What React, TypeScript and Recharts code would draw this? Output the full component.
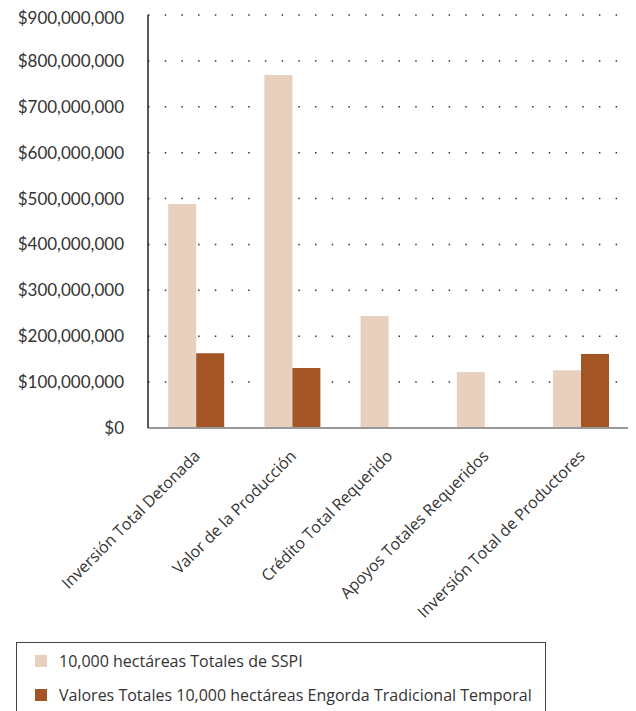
import React from "react";
import { BarChart, Bar, XAxis, YAxis, CartesianGrid } from "recharts";

const categories = [
  "Inversión Total Detonada",
  "Valor de la Producción",
  "Crédito Total Requerido",
  "Apoyos Totales Requeridos",
  "Inversión Total de Productores",
];
const sspiValues = [488000000, 769000000, 244000000, 122000000, 126000000];
const tradicionalValues = [163000000, 131000000, null, null, 161000000];
const yTicks = [0, 100000000, 200000000, 300000000, 400000000, 500000000, 600000000, 700000000, 800000000, 900000000];
const seriesNames = [
  "10,000 hectáreas Totales de SSPI",
  "Valores Totales 10,000 hectáreas Engorda Tradicional Temporal",
];
const colors = ["#E8D0BE", "#A45526"];

const data = categories.map((c, i) => ({
  name: c,
  sspi: sspiValues[i],
  trad: tradicionalValues[i],
}));

const FONT = "Lato, 'Open Sans', sans-serif";
const FONT2 = "'Open Sans', sans-serif";

const fmt = (v: number) => "$" + v.toLocaleString("en-US");

const XTick = (props: any) => {
  const { x, y, payload } = props;
  return (
    <text
      transform={`translate(${x + 5},${y + 29}) rotate(-45)`}
      textAnchor="end"
      fontFamily={FONT2}
      fontSize={16}
      fill="#333"
    >
      {payload.value}
    </text>
  );
};

export default function App() {
  return (
    <div style={{ position: "relative", width: 628, height: 703, fontFamily: FONT2 }}>
      <BarChart
        width={628}
        height={703}
        data={data}
        margin={{ top: 7, right: 7, left: 0, bottom: 0 }}
        barCategoryGap="21%"
        barGap={0}
      >
        <CartesianGrid vertical={false} stroke="#333" strokeDasharray="1.5 15.2" strokeWidth={1.5} />
        <XAxis
          dataKey="name"
          height={283}
          interval={0}
          tickLine={false}
          tickSize={0}
          tickMargin={0}
          axisLine={{ stroke: "#999", strokeWidth: 2 }}
          tick={<XTick />}
        />
        <YAxis
          width={140}
          domain={[0, 900000000]}
          ticks={yTicks}
          tickFormatter={fmt}
          tickLine={false}
          tickSize={0}
          tickMargin={24}
          axisLine={{ stroke: "#222", strokeWidth: 1.5 }}
          tick={{ fontFamily: FONT, fontSize: 17, fill: "#333" }}
        />
        <Bar dataKey="sspi" name={seriesNames[0]} fill={colors[0]} isAnimationActive={false} />
        <Bar dataKey="trad" name={seriesNames[1]} fill={colors[1]} isAnimationActive={false} />
      </BarChart>
      <div
        style={{
          position: "absolute",
          left: 8,
          top: 634,
          width: 530,
          height: 90,
          border: "1px solid #444",
          boxSizing: "border-box",
          background: "#fff",
        }}
      >
        {seriesNames.map((n, i) => (
          <div
            key={n}
            style={{
              position: "absolute",
              left: 18,
              top: i === 0 ? 9 : 43,
              height: 18,
              display: "flex",
              alignItems: "center",
              whiteSpace: "nowrap",
              fontSize: 16,
              color: "#333",
            }}
          >
            <span style={{ display: "inline-block", width: 12, height: 12, background: colors[i], marginRight: 12 }} />
            {n}
          </div>
        ))}
      </div>
    </div>
  );
}
